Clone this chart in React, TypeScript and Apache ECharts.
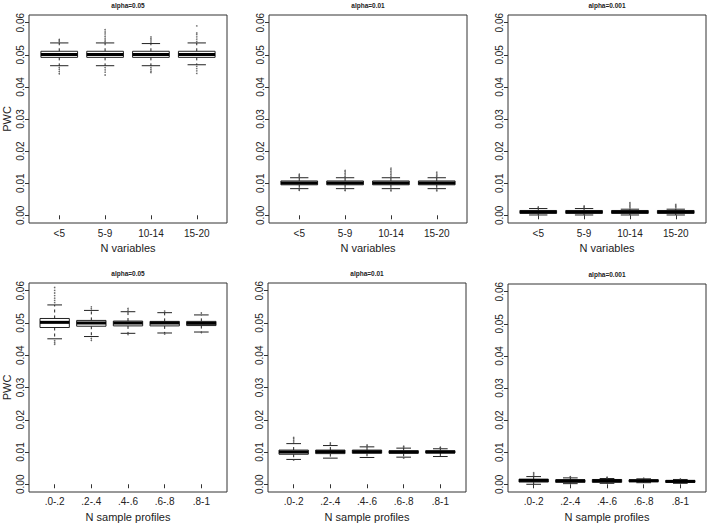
import React, { useEffect, useRef } from "react";
import * as echarts from "echarts";

// Categories
const varCats = ["<5", "5-9", "10-14", "15-20"];
const profCats = [".0-.2", ".2-.4", ".4-.6", ".6-.8", ".8-1"];
const yTicks = [0, 0.01, 0.02, 0.03, 0.04, 0.05, 0.06];

// Box stats: [category, lowerWhisker, q1, median, q3, upperWhisker]
const boxVar05 = [
  [1, 0.0466, 0.0492, 0.0501, 0.0511, 0.0537],
  [2, 0.0466, 0.0492, 0.0501, 0.0511, 0.0537],
  [3, 0.0466, 0.0492, 0.0501, 0.0511, 0.0535],
  [4, 0.0469, 0.0492, 0.0501, 0.0511, 0.0537],
];
const outVar05 = [
  [1, 0.0541], [1, 0.0545], [1, 0.0548], [1, 0.0461], [1, 0.0455], [1, 0.0448], [1, 0.0441],
  [2, 0.0541], [2, 0.0546], [2, 0.0552], [2, 0.0558], [2, 0.0565], [2, 0.0571], [2, 0.0578],
  [2, 0.046], [2, 0.0453], [2, 0.0446], [2, 0.0437],
  [3, 0.054], [3, 0.0546], [3, 0.0551], [3, 0.0556], [3, 0.0461], [3, 0.0455], [3, 0.0449], [3, 0.0445],
  [4, 0.0542], [4, 0.0549], [4, 0.0556], [4, 0.0563], [4, 0.0568], [4, 0.059],
  [4, 0.0464], [4, 0.0457], [4, 0.045], [4, 0.0442],
];

const boxVar01 = [
  [1, 0.0083, 0.0095, 0.0101, 0.0107, 0.0117],
  [2, 0.0083, 0.0095, 0.0101, 0.0107, 0.0117],
  [3, 0.0083, 0.0095, 0.0101, 0.0107, 0.0117],
  [4, 0.0083, 0.0095, 0.0101, 0.0107, 0.0117],
];
const outVar01 = [
  [1, 0.0121], [1, 0.0124], [1, 0.0128], [1, 0.008], [1, 0.0078],
  [2, 0.0121], [2, 0.0126], [2, 0.0131], [2, 0.0136], [2, 0.014], [2, 0.0079], [2, 0.0077],
  [3, 0.0122], [3, 0.0127], [3, 0.0132], [3, 0.0137], [3, 0.0142], [3, 0.0147], [3, 0.0079], [3, 0.0076],
  [4, 0.0121], [4, 0.0125], [4, 0.0129], [4, 0.0134], [4, 0.0079], [4, 0.0076],
];

const boxVar001 = [
  [1, 0.0001, 0.0006, 0.001, 0.0015, 0.0021],
  [2, 0.0001, 0.0006, 0.001, 0.0015, 0.0021],
  [3, 0.0001, 0.0006, 0.001, 0.0015, 0.0019],
  [4, 0.0001, 0.0006, 0.001, 0.0015, 0.0019],
];
const outVar001 = [
  [1, 0.0023], [1, 0.0026],
  [2, 0.0023], [2, 0.0026], [2, 0.0029],
  [3, 0.0023], [3, 0.0027], [3, 0.0031], [3, 0.0035], [3, 0.0039],
  [4, 0.0023], [4, 0.0027], [4, 0.003], [4, 0.0034],
];

const boxProf05 = [
  [1, 0.0451, 0.0486, 0.0502, 0.0514, 0.0556],
  [2, 0.0458, 0.049, 0.05, 0.0508, 0.0539],
  [3, 0.0468, 0.0491, 0.05, 0.0506, 0.0535],
  [4, 0.0469, 0.0491, 0.05, 0.0505, 0.0532],
  [5, 0.0472, 0.0492, 0.0499, 0.0505, 0.0525],
];
const outProf05 = [
  [1, 0.0563], [1, 0.057], [1, 0.0577], [1, 0.0585], [1, 0.0593], [1, 0.0601], [1, 0.061],
  [1, 0.0445], [1, 0.0439], [1, 0.0434],
  [2, 0.0544], [2, 0.055], [2, 0.0452], [2, 0.0446],
  [3, 0.054], [3, 0.0545], [3, 0.0464],
  [4, 0.0537], [4, 0.0466],
  [5, 0.0531], [5, 0.047],
];

const boxProf01 = [
  [1, 0.0077, 0.0093, 0.01, 0.0106, 0.0126],
  [2, 0.0081, 0.0095, 0.0101, 0.0106, 0.012],
  [3, 0.0083, 0.0096, 0.0101, 0.0106, 0.0116],
  [4, 0.0084, 0.0096, 0.01, 0.0104, 0.0112],
  [5, 0.0086, 0.0097, 0.01, 0.0104, 0.011],
];
const outProf01 = [
  [1, 0.0131], [1, 0.0136], [1, 0.0141], [1, 0.0145], [1, 0.0075],
  [2, 0.0124], [2, 0.0128],
  [3, 0.0119], [3, 0.0122],
  [4, 0.0115], [4, 0.0118], [4, 0.0081],
  [5, 0.0113], [5, 0.0115],
];

const boxProf001 = [
  [1, 0.0, 0.0007, 0.0012, 0.0016, 0.0024],
  [2, 0.0002, 0.0006, 0.0011, 0.0014, 0.002],
  [3, 0.0003, 0.0006, 0.0011, 0.0015, 0.0018],
  [4, 0.0005, 0.0008, 0.0011, 0.0014, 0.0017],
  [5, 0.0003, 0.0006, 0.0009, 0.0012, 0.0015],
];
const outProf001 = [
  [1, 0.0028], [1, 0.0032], [1, 0.0036],
  [2, 0.0022], [2, 0.0024],
  [3, 0.002], [3, 0.0022],
  [4, 0.0019],
  [5, 0.0017],
];

const panels = [
  { title: "alpha=0.05", cats: varCats, box: boxVar05, out: outVar05, left: 29, top: 15, height: 208, xName: "N variables", yName: "PWC", lm: 5 },
  { title: "alpha=0.01", cats: varCats, box: boxVar01, out: outVar01, left: 269, top: 15, height: 208, xName: "N variables", yName: "", lm: 5 },
  { title: "alpha=0.001", cats: varCats, box: boxVar001, out: outVar001, left: 508, top: 15, height: 208, xName: "N variables", yName: "", lm: 5 },
  { title: "alpha=0.05", cats: profCats, box: boxProf05, out: outProf05, left: 29, top: 283, height: 209, xName: "N sample profiles", yName: "PWC", lm: 4 },
  { title: "alpha=0.01", cats: profCats, box: boxProf01, out: outProf01, left: 268, top: 283, height: 209, xName: "N sample profiles", yName: "", lm: 4 },
  { title: "alpha=0.001", cats: profCats, box: boxProf001, out: outProf001, left: 508, top: 284, height: 209, xName: "N sample profiles", yName: "", lm: 4 },
];

const PANEL_W = 198;
const FONT = "'Liberation Sans', Arial, sans-serif";
const INK = "#222";

function renderBox(_params: any, api: any) {
  const x = api.value(0);
  const low = api.coord([x, api.value(1)]);
  const q1 = api.coord([x, api.value(2)]);
  const med = api.coord([x, api.value(3)]);
  const q3 = api.coord([x, api.value(4)]);
  const high = api.coord([x, api.value(5)]);
  const w = api.size([0.8, 0])[0];
  const cx = med[0];
  const thin = { stroke: INK, lineWidth: 1 };
  const dashed = { stroke: INK, lineWidth: 1, lineDash: [3, 3] };
  return {
    type: "group",
    children: [
      { type: "line", shape: { x1: cx, y1: q3[1], x2: cx, y2: high[1] }, style: dashed },
      { type: "line", shape: { x1: cx, y1: q1[1], x2: cx, y2: low[1] }, style: dashed },
      { type: "line", shape: { x1: cx - w / 4, y1: high[1], x2: cx + w / 4, y2: high[1] }, style: thin },
      { type: "line", shape: { x1: cx - w / 4, y1: low[1], x2: cx + w / 4, y2: low[1] }, style: thin },
      {
        type: "rect",
        shape: { x: cx - w / 2, y: q3[1], width: w, height: q1[1] - q3[1] },
        style: { fill: "#fff", stroke: INK, lineWidth: 1 },
      },
      { type: "line", shape: { x1: cx - w / 2, y1: med[1], x2: cx + w / 2, y2: med[1] }, style: { stroke: "#000", lineWidth: 3 } },
    ],
  };
}

export default function App() {
  const ref = useRef<HTMLDivElement>(null);
  useEffect(() => {
    if (!ref.current) return;
    const chart = echarts.init(ref.current, undefined, { renderer: "svg" });
    const grid: any[] = [];
    const xAxis: any[] = [];
    const yAxis: any[] = [];
    const series: any[] = [];
    const graphic: any[] = [];
    panels.forEach((p, i) => {
      const n = p.cats.length;
      const catVals = p.cats.map((_, k) => k + 1);
      grid.push({
        left: p.left, top: p.top, width: PANEL_W, height: p.height,
        show: true, borderColor: "#333", borderWidth: 1, backgroundColor: "transparent",
      });
      xAxis.push({
        type: "value", gridIndex: i,
        min: 0.5 - 0.04 * n, max: n + 0.5 + 0.04 * n,
        splitLine: { show: false },
        axisLine: { show: false },
        axisTick: { show: true, length: 4, customValues: catVals, lineStyle: { color: "#333" } },
        axisLabel: {
          show: true, customValues: catVals, margin: p.lm,
          formatter: (v: number) => p.cats[Math.round(v) - 1] ?? "",
          fontFamily: FONT, fontSize: 10, color: INK,
        },
        name: p.xName, nameLocation: "middle", nameGap: 19,
        nameTextStyle: { fontFamily: FONT, fontSize: 11, color: INK },
      });
      yAxis.push({
        type: "value", gridIndex: i,
        min: -0.0024, max: 0.0624,
        splitLine: { show: false },
        axisLine: { show: false },
        axisTick: { show: true, length: 4, customValues: yTicks, lineStyle: { color: "#333" } },
        axisLabel: {
          show: true, customValues: yTicks, rotate: 90, margin: 4,
          formatter: (v: number) => v.toFixed(2),
          fontFamily: FONT, fontSize: 10, color: INK,
        },
        name: p.yName, nameLocation: "middle", nameGap: 17,
        nameTextStyle: { fontFamily: FONT, fontSize: 11, color: INK },
      });
      series.push({
        type: "custom", xAxisIndex: i, yAxisIndex: i,
        renderItem: renderBox,
        encode: { x: 0, y: [1, 2, 3, 4, 5] },
        data: p.box,
        clip: false,
      });
      series.push({
        type: "scatter", xAxisIndex: i, yAxisIndex: i,
        symbol: "circle", symbolSize: 1.6,
        itemStyle: { color: "#444" },
        data: p.out,
      });
      graphic.push({
        type: "text",
        x: p.left + PANEL_W / 2,
        y: p.top - 10,
        style: {
          text: p.title, align: "center", verticalAlign: "middle",
          fontFamily: FONT, fontSize: 6.5, fontWeight: "bold", fill: INK,
        },
      });
    });
    chart.setOption({
      animation: false,
      backgroundColor: "#fff",
      grid, xAxis, yAxis, series, graphic,
    });
    return () => chart.dispose();
  }, []);
  return (
    <div
      ref={ref}
      style={{ position: "fixed", left: 0, top: 0, width: 708, height: 523 }}
    />
  );
}
